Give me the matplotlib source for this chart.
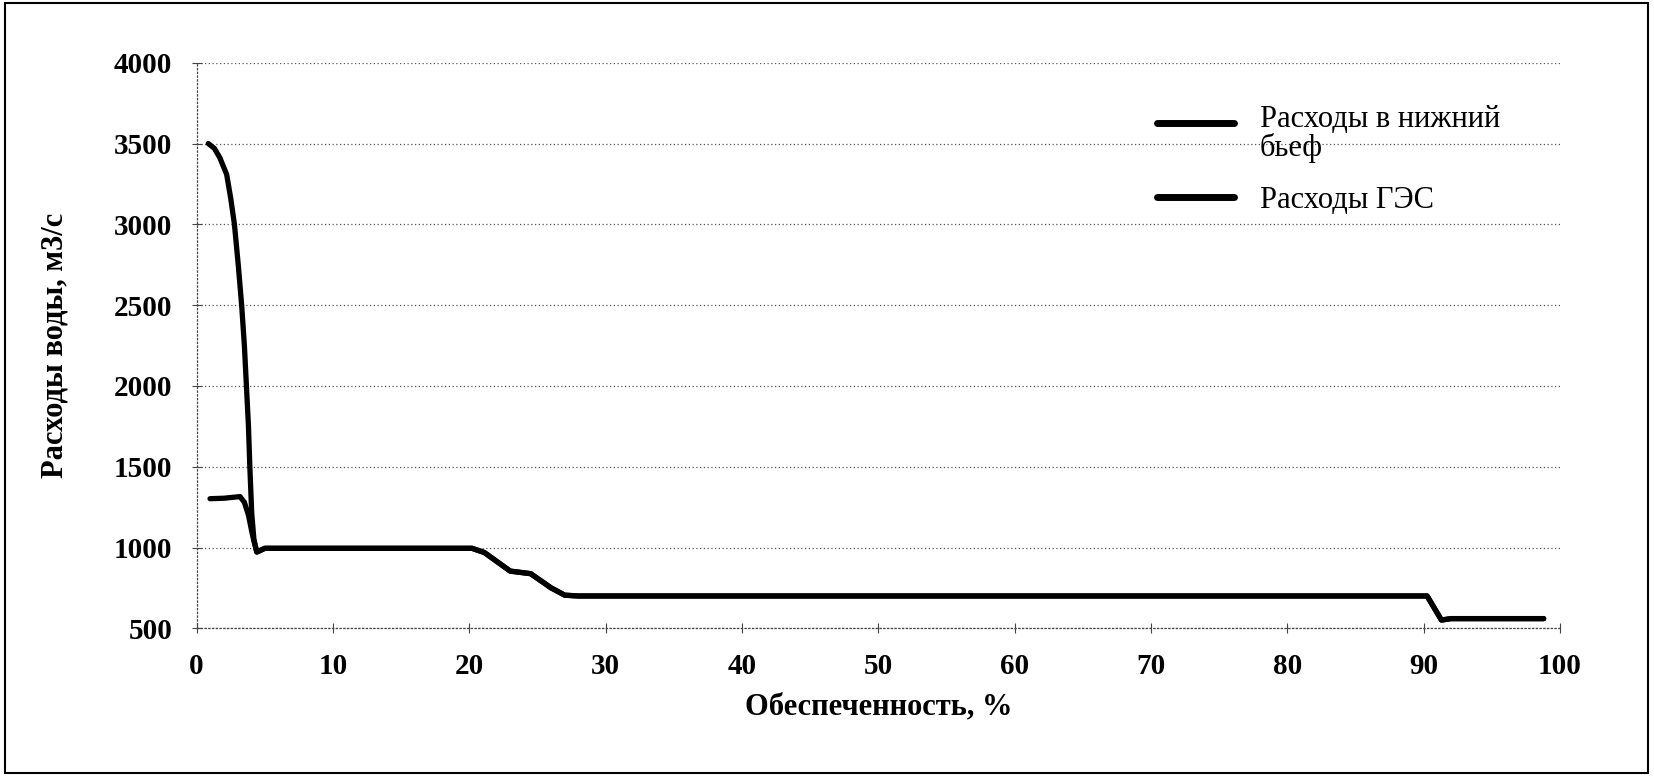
import matplotlib
matplotlib.use("Agg")
import matplotlib.pyplot as plt
from matplotlib.patches import Rectangle

plt.rcParams['font.family'] = ['Liberation Serif', 'DejaVu Serif']

# shared part of both curves (they coincide after ~4.4 %)
x_common = [4.41, 5.0, 20.2, 21.1, 23.0, 24.5, 26.0, 27.0, 28.0, 90.25, 91.3, 92.0, 98.8]
y_common = [972, 995, 995, 969, 854, 838, 750, 705, 700, 700, 551, 560, 560]

# Расходы в нижний бьеф - steep head
x_bief_head = [0.85, 1.3, 1.7, 2.2, 2.5, 2.77, 3.05, 3.3, 3.5, 3.65, 3.8, 3.9, 4.04, 4.2]
y_bief_head = [3500, 3470, 3412, 3309, 3160, 3000, 2750, 2500, 2250, 2000, 1750, 1500, 1210, 1050]

# Расходы ГЭС - head
x_ges_head = [0.98, 2.0, 3.18, 3.5, 3.8, 4.04, 4.2]
y_ges_head = [1302, 1305, 1315, 1280, 1200, 1100, 1040]

x_bief = x_bief_head + x_common
y_bief = y_bief_head + y_common
x_ges = x_ges_head + x_common
y_ges = y_ges_head + y_common

fig = plt.figure(figsize=(16.54, 7.81), dpi=100)
ax = fig.add_axes([0.1189, 0.1955, 0.9432 - 0.1189, 0.9197 - 0.1955])

ax.plot(x_bief, y_bief, color='black', lw=3.8, solid_capstyle='round',
        solid_joinstyle='round', label='Расходы в нижний\nбьеф')
ax.plot(x_ges, y_ges, color='black', lw=3.8, solid_capstyle='round',
        solid_joinstyle='round', label='Расходы ГЭС')

ax.set_xlim(0, 100)
ax.set_ylim(500, 4000)
ax.set_xticks(range(0, 101, 10))
ax.set_yticks(range(500, 4001, 500))

ax.grid(axis='y', color='#555555', linestyle=(0, (1, 2)), lw=0.9)
for s in ['top', 'right']:
    ax.spines[s].set_visible(False)
for s in ['left', 'bottom']:
    ax.spines[s].set_linestyle((0, (1, 2)))
    ax.spines[s].set_color('#444444')
    ax.spines[s].set_linewidth(0.9)

ax.tick_params(axis='both', direction='inout', length=7, width=0.8, color='#444444',
               labelsize=21)
ax.tick_params(axis='y', pad=14)
ax.tick_params(axis='x', pad=14)
for lab in ax.get_xticklabels() + ax.get_yticklabels():
    lab.set_fontweight('bold')

ax.set_xlabel('Обеспеченность, %', fontsize=22, fontweight='bold', labelpad=9)
ax.set_ylabel('Расходы воды, м3/с', fontsize=22, fontweight='bold', labelpad=32)

leg = ax.legend(loc='upper left', bbox_to_anchor=(1142 / 1654, 1 - 90 / 781),
                bbox_transform=fig.transFigure, frameon=False, fontsize=22,
                handlelength=2.5, handletextpad=0.85, labelspacing=0.75,
                borderpad=0.0)
for line in leg.get_lines():
    line.set_linewidth(5)
for t in leg.get_texts():
    t.set_linespacing(0.95)
# Excel puts the first handle next to the first text line, not the block centre
first = leg.get_lines()[0]
first.set_ydata([v + 8.5 for v in first.get_ydata()])

fig.patches.append(Rectangle((5 / 1654, 1 - 773 / 781), 1643 / 1654, 770 / 781,
                             transform=fig.transFigure, fill=False,
                             edgecolor='black', lw=1.5))

fig.savefig('out.png', dpi=100)
